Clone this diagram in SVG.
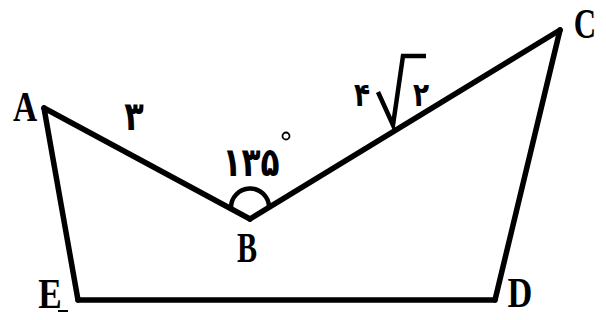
<svg xmlns="http://www.w3.org/2000/svg" width="606" height="320" viewBox="0 0 606 320">
<style>
.edge{stroke:#000;stroke-width:5.5;stroke-linecap:round;fill:none}
.lbl{font-family:"Liberation Serif","Times New Roman",serif;font-weight:bold;font-size:43px;fill:#000;text-anchor:middle}
.num{font-family:"DejaVu Sans","Noto Sans",sans-serif;font-weight:bold;fill:#000;text-anchor:middle}
</style>
<rect width="606" height="320" fill="#fff"/>
<g id="connectors">
<line class="edge" x1="44" y1="108" x2="250" y2="219"/>
<line class="edge" x1="250" y1="219" x2="560" y2="30"/>
<line class="edge" x1="560" y1="30" x2="495" y2="300"/>
<line class="edge" x1="495" y1="300" x2="78" y2="300"/>
<line class="edge" x1="78" y1="300" x2="44" y2="108"/>
</g>
<g id="A"><text class="lbl" transform="translate(25,121) scale(0.78,1)">A</text></g>
<g id="B">
<text class="lbl" transform="translate(247,262) scale(0.7,1)">B</text>
<path d="M231,208 A19,19 0 0 1 269,207" fill="none" stroke="#000" stroke-width="4.5"/>
<text class="num" font-size="40" transform="translate(251,176) scale(0.78,1)">۱۳۵</text>
<circle cx="286" cy="136" r="3.5" fill="none" stroke="#000" stroke-width="1.8"/>
</g>
<g id="C"><text class="lbl" transform="translate(585,38) scale(0.72,1)">C</text></g>
<g id="D"><text class="lbl" transform="translate(520,307) scale(0.8,1)">D</text></g>
<g id="E"><text class="lbl" transform="translate(50,308) scale(0.82,1)">E</text>
<line x1="58" y1="311" x2="68" y2="311" stroke="#000" stroke-width="2"/></g>
<g id="labels">
<text class="num" font-size="40" transform="translate(134,130) scale(0.8,1)">۳</text>
<text class="num" font-size="33" transform="translate(362,106) scale(0.8,1)">۴</text>
<path d="M378,92 L393,125 L403,56 L426,56" fill="none" stroke="#000" stroke-width="4.5" stroke-linejoin="miter"/>
<text class="num" font-size="33" transform="translate(421,106) scale(0.8,1)">۲</text>
</g>
</svg>
